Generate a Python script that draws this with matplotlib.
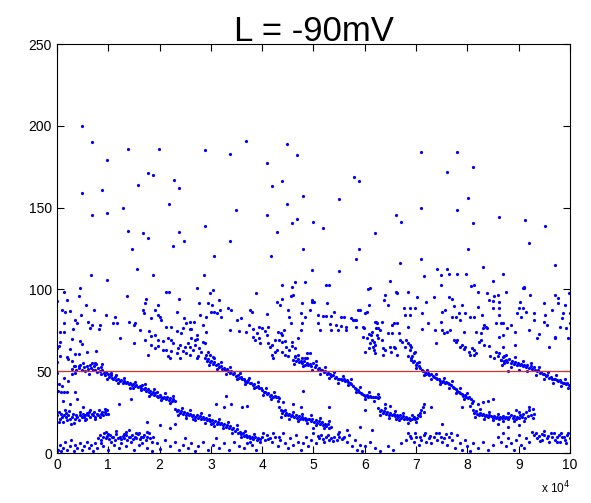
import matplotlib
matplotlib.use('Agg')
import matplotlib.pyplot as plt
import numpy as np

plt.rcParams['font.family'] = ['Liberation Sans', 'DejaVu Sans']

# x in units of 1e4, y
outliers = [
    (0.48, 200), (0.68, 190), (0.98, 179), (1.38, 186), (1.98, 186), (2.89, 185), (3.37, 183),
    (3.68, 191), (4.09, 177), (4.48, 189), (4.68, 182), (0.48, 159), (0.88, 161), (1.58, 164),
    (1.77, 171), (1.87, 170), (2.28, 167), (2.38, 162), (4.19, 163), (4.39, 166), (4.79, 157),
    (0.68, 145.5), (0.98, 147), (1.28, 150), (2.18, 152), (3.48, 148.5), (4.09, 145.5), (4.48, 152),
    (1.38, 136), (1.68, 134.5), (1.77, 131.5), (2.38, 135), (2.48, 129.6), (2.89, 139), (3.37, 129.6),
    (2.27, 126.5), (4.29, 135), (4.58, 140.6), (4.68, 143), (4.99, 141), (4.79, 125), (1.47, 125),
    (7.10, 184), (7.80, 184), (8.11, 175), (7.60, 172), (5.79, 169), (5.89, 166), (5.49, 155),
    (8.01, 156), (7.10, 150), (7.80, 148.5), (6.60, 145.5), (6.70, 141.5), (5.19, 137.5), (6.20, 134.5),
    (8.11, 140.6), (8.62, 144), (9.12, 142.5), (9.51, 139), (9.20, 128.5), (8.01, 125), (5.89, 124.5),
    (1.56, 112.5), (0.67, 109), (0.97, 106), (1.87, 109), (2.87, 109), (3.07, 120.6), (4.17, 120.6),
    (4.64, 104.5), (4.39, 102.7), (4.58, 101.5), (5.83, 118.6), (5.49, 111.4), (5.30, 102.7),
    (4.83, 104.5), (6.69, 116), (7.10, 118.6), (7.16, 108), (6.10, 100.8), (6.50, 105), (7.40, 112.5),
    (7.60, 112.5), (7.80, 109.6), (7.97, 109.6), (8.30, 113.7), (8.69, 109.6), (8.50, 105), (9.10, 101),
    (9.71, 115), (7.49, 108.8), (7.65, 109.4), (0.45, 100.6), (4.97, 112), (5.24, 102.5), (6.06, 100.5),
    (9.98, 98),
]

upper_cloud = [
    (0.14, 98.6), (0.42, 96), (0.20, 93.6), (0.01, 93), (0.56, 90.6), (0.09, 87.5), (0.73, 87.5),
    (0.25, 86.5), (0.16, 86), (0.47, 84.4), (0.95, 84.4), (1.13, 83.4), (0.35, 81.3), (0.60, 80.3),
    (1.10, 79.7), (1.17, 79.7), (0.13, 79.7), (0.39, 79.7), (0.68, 78.5), (0.84, 78.5), (0.65, 76.6),
    (0.81, 76), (0.32, 75.6), (0.13, 73.7), (0.06, 73.7), (1.23, 70.6), (0.29, 69.6), (0.45, 68.6),
    (0.06, 67.6), (0.48, 66.5), (0.03, 65.5), (0.0, 64), (0.25, 63.5), (0.77, 62.5), (0.58, 61.5),
    (0.35, 60.5), (0.42, 60.5), (0.06, 59.4), (0.19, 58.4), (0.22, 57.4), (0.29, 56.4), (0.0, 55.4),
    (0.68, 54.8), (0.77, 54.4), (0.87, 54.4), (0.42, 53.4), (0.35, 53),
    (1.37, 96), (2.12, 98.6), (2.18, 98.6), (1.73, 94.4), (2.38, 94.4), (1.71, 91.4), (1.97, 90.4),
    (1.68, 87.7), (1.91, 87.7), (2.34, 86.4), (1.70, 85.4), (1.96, 84.4), (2.0, 83.4), (1.83, 82.3),
    (2.47, 82.3), (2.03, 81.3), (1.4, 80.3), (1.53, 79.3), (1.5, 78.3), (2.12, 77.3), (2.22, 76.8),
    (1.61, 75.3), (1.79, 74.3), (2.33, 74.3), (2.41, 73.3), (1.91, 72.3), (1.84, 71.3), (2.17, 70.3),
    (1.71, 69.3), (2.23, 69.3), (1.96, 68.9), (2.07, 68.2), (1.51, 67.2), (2.27, 67.2), (1.84, 66.2),
    (2.39, 66.2), (1.97, 65.2), (1.91, 64.1), (2.35, 64.1), (2.06, 63.1), (2.13, 63.1), (2.23, 62.1),
    (2.45, 62.1), (2.33, 61.1), (1.77, 60.1), (2.17, 59.1), (2.2, 58), (2.39, 58),
    (2.72, 100.6), (3.04, 99.6), (2.98, 97.6), (2.77, 91.4), (2.94, 91.4), (3.02, 90.4), (3.15, 93.4),
    (3.33, 88.4), (3.40, 87.5), (3.17, 87.7), (3.07, 86.4), (3.01, 86.4), (3.11, 85.4), (2.78, 84.4),
    (2.91, 83.4), (3.20, 83.4), (3.59, 82.3), (3.5, 81.3), (2.6, 80.3), (2.67, 80.3), (2.51, 79.3),
    (2.84, 78.3), (2.45, 76.3), (2.59, 75.6), (2.62, 75.6), (3.37, 75.2), (3.55, 74.6), (2.91, 74.2),
    (3.69, 74.2), (2.72, 72.1), (2.62, 70.1), (2.72, 69.4), (2.69, 69), (2.84, 68), (2.88, 67.4),
    (2.56, 67), (2.69, 66), (2.49, 65), (2.59, 65), (2.77, 64), (2.95, 62), (2.52, 61), (2.59, 60),
    (2.75, 59), (2.72, 58), (2.98, 60), (3.05, 58.5), (2.65, 63), (2.80, 61.5),
    (3.87, 97.6), (4.60, 96.6), (4.57, 96), (4.28, 92.4), (4.97, 92.4), (4.78, 91.4), (4.38, 94.4),
    (4.35, 90.4), (3.77, 87.5), (3.80, 86.4), (4.50, 87.5), (4.94, 87.7), (4.75, 85.4), (4.09, 84.9),
    (4.53, 83.4), (4.84, 83.4), (4.78, 79.3), (4.56, 79.3), (3.75, 78.3), (3.93, 77.3), (4.12, 77.3),
    (4.0, 76.3), (3.83, 75.6), (4.43, 75.2), (4.75, 75.2), (4.06, 74.6), (4.30, 74.2), (4.36, 73.6),
    (3.89, 73.2), (4.09, 72.1), (4.39, 72.1), (3.83, 71.1), (3.93, 70.1), (4.69, 70.1), (3.86, 69),
    (4.25, 69), (4.32, 69), (4.45, 68.6), (4.58, 68), (4.38, 68), (3.96, 67), (4.12, 67), (4.19, 66),
    (4.58, 65.4), (4.15, 65), (4.47, 64.6), (4.63, 64), (4.53, 63), (4.28, 63), (4.25, 62), (4.38, 62),
    (4.88, 61), (4.94, 61), (4.19, 60), (4.45, 60), (4.51, 59.4), (4.64, 59), (4.22, 58), (4.78, 58),
    (4.84, 58),
    (4.98, 93.5), (5.01, 92.4), (5.26, 91.4), (6.09, 90.4), (5.86, 87.7), (5.90, 87.7), (5.4, 86.4),
    (6.04, 86.4), (6.01, 85.4), (5.08, 84.4), (5.18, 83.8), (5.24, 83.8), (5.34, 83.8), (5.53, 83.4),
    (5.60, 83.4), (5.73, 82.3), (5.80, 81.6), (5.77, 81.3), (5.83, 81), (6.22, 80.3), (5.09, 79.3),
    (5.33, 78.7), (5.44, 78.3), (5.53, 77.7), (5.63, 77.3), (5.83, 77.3), (5.96, 76.8), (5.99, 76.3),
    (6.22, 76.3), (5.12, 75.2), (5.34, 75.2), (5.47, 75.2), (5.63, 75.2), (6.15, 74.2), (6.08, 73),
    (6.12, 72), (5.96, 71), (6.05, 70), (6.14, 69), (6.18, 68), (6.10, 67), (6.20, 66), (6.16, 65),
    (6.08, 64), (6.0, 62), (6.18, 63),
    (6.39, 96.6), (6.62, 97.6), (6.60, 98.6), (6.84, 98.6), (7.02, 95.6), (7.35, 95.6), (6.37, 93.5),
    (7.2, 92.4), (6.46, 90.4), (6.77, 88.4), (6.88, 88.4), (6.98, 88.4), (7.11, 85.4), (6.79, 84.4),
    (6.89, 84.4), (6.20, 80.3), (6.23, 79.3), (6.33, 80.3), (6.56, 79.3), (6.62, 79.3), (7.24, 79.3),
    (6.53, 78.3), (6.85, 77.3), (6.26, 76.3), (6.30, 75.2), (7.11, 75.6), (7.37, 75.2), (6.46, 73.2),
    (6.53, 73.2), (6.66, 73.2), (6.23, 72.1), (6.26, 70.1), (6.33, 69), (6.68, 69), (6.81, 69),
    (6.72, 68), (7.39, 67.4), (6.85, 67), (6.88, 66), (6.49, 65), (6.56, 65), (6.79, 65), (6.91, 65),
    (6.59, 64), (6.36, 64), (6.39, 63), (6.88, 63), (6.98, 62), (6.52, 62), (6.2, 61), (6.95, 61),
    (6.62, 60), (6.36, 60), (6.85, 59), (6.91, 58),
    (7.48, 102.7), (8.13, 102.7), (8.07, 102), (8.20, 98.6), (8.39, 97.6), (8.59, 96.6), (8.52, 96),
    (7.64, 95.6), (7.69, 94.4), (8.42, 93.5), (8.49, 93), (8.62, 92.4), (7.90, 90.4), (7.74, 89.8),
    (8.20, 89.3), (8.62, 88.4), (8.49, 88.4), (7.57, 87.5), (7.51, 86.4), (7.83, 85.8), (7.96, 85.4),
    (8.29, 84.4), (8.62, 84.4), (7.70, 83.4), (7.77, 83.4), (8.06, 83.4), (8.13, 83.4), (7.86, 81.3),
    (7.48, 80.3), (8.69, 79.7), (8.56, 79.3), (8.66, 79.3), (8.33, 78.3), (8.36, 77.3), (8.30, 76.3),
    (8.39, 76.3), (7.51, 75.2), (7.67, 75.2), (7.61, 74.2), (7.93, 74.2), (8.16, 74.2), (7.54, 73.2),
    (8.26, 73.2), (8.69, 72.1), (8.62, 71.1), (7.74, 69), (7.80, 69), (7.77, 68), (8.23, 68), (8.26, 69),
    (7.9, 66), (8.33, 66), (8.42, 65.4), (7.86, 65), (7.96, 65), (8.09, 64), (7.93, 63.5), (8.13, 63),
    (8.03, 62), (8.55, 62), (8.16, 61), (8.62, 61), (8.06, 60), (8.13, 60), (8.45, 59.4), (8.59, 59),
    (8.52, 58), (8.65, 57), (8.71, 55),
    (9.11, 101.7), (9.09, 100.6), (9.70, 96.6), (9.76, 95), (9.22, 96.6), (8.76, 98.6), (9.03, 92.4),
    (9.49, 91.4), (9.76, 91.4), (9.90, 90.4), (9.0, 88.4), (9.09, 88.4), (9.64, 87.5), (9.15, 86.4),
    (10.0, 85.8), (8.96, 85.4), (9.29, 85.4), (9.87, 85.4), (9.51, 84.4), (9.05, 83.4), (9.84, 82.3),
    (9.29, 81.3), (9.49, 80.3), (10.0, 79.3), (8.85, 78.3), (9.80, 77.3), (9.93, 76.3), (8.78, 76.3),
    (8.92, 74.2), (9.70, 70.1), (9.96, 70.1), (8.92, 66), (8.69, 65), (9.71, 71), (9.2, 75), (9.4, 73),
    (9.55, 78), (9.35, 70), (9.6, 65),
]

# descending bands (upper branch of each sawtooth)
descent_upper = [
    (0.30, 51.5), (0.34, 53), (0.38, 50.5), (0.42, 52), (0.45, 53.5), (0.48, 51), (0.52, 52.5),
    (0.55, 50), (0.58, 53), (0.61, 51.5), (0.64, 54), (0.67, 52), (0.70, 50.5), (0.72, 53), (0.75, 51),
    (0.78, 49.5), (0.80, 52), (0.83, 50), (0.86, 48.5), (0.88, 51), (0.91, 49), (0.94, 47.5),
    (0.96, 49.5), (0.99, 48), (1.02, 46.5), (1.05, 47.5), (1.08, 46), (1.10, 45), (1.13, 46.5),
    (1.16, 44.5), (1.19, 45.5), (1.22, 44), (1.25, 44.5), (1.28, 43), (1.31, 44), (1.34, 42.5),
    (1.37, 43.5), (1.40, 42), (1.43, 42.5), (1.46, 41.5), (1.49, 42), (1.52, 41), (1.55, 41.5),
    (1.58, 40.5), (1.61, 41), (1.64, 40), (1.66, 41.5), (1.69, 39), (1.71, 40), (1.74, 38), (1.77, 39),
    (1.79, 37), (1.82, 38), (1.84, 36), (1.87, 37), (1.89, 35.5), (1.92, 36.5), (1.94, 35),
    (1.97, 34.5), (2.00, 35.5), (2.03, 34), (2.06, 33.5), (2.09, 34.5), (2.12, 33), (2.15, 34),
    (2.18, 32.5), (2.21, 33.5), (2.24, 32), (2.27, 33), (2.30, 31.5),
    (2.88, 58), (2.92, 56.5), (2.95, 57.5), (2.98, 55.5), (3.01, 56.5), (3.04, 54.5), (3.07, 55.5),
    (3.10, 53.5), (3.13, 54.5), (3.16, 52.5), (3.19, 53), (3.22, 51.5), (3.25, 52), (3.28, 50.5),
    (3.31, 51.5), (3.34, 50), (3.37, 49), (3.40, 50), (3.43, 48), (3.46, 49), (3.49, 47), (3.52, 47.5),
    (3.55, 46), (3.58, 46.5), (3.61, 45), (3.64, 45.5), (3.67, 44), (3.70, 43.5), (3.73, 44.5),
    (3.76, 42.5), (3.79, 43), (3.82, 41.5), (3.85, 42), (3.88, 40.5), (3.91, 41), (3.94, 39.5),
    (3.97, 40), (4.00, 38.5), (4.03, 37), (4.06, 37.5), (4.09, 36), (4.12, 36.5), (4.15, 35),
    (4.18, 35.5), (4.21, 34.5), (4.24, 35), (4.27, 34), (4.30, 34.5), (4.33, 33.5),
    (4.60, 57), (4.63, 58.5), (4.66, 56), (4.69, 57.5), (4.72, 55.5), (4.75, 56.5), (4.78, 55),
    (4.81, 56), (4.84, 54), (4.87, 55), (4.90, 53.5), (4.93, 54.5), (4.96, 53), (4.99, 55), (5.02, 52.5),
    (5.05, 53.5), (5.08, 51.5), (5.11, 52), (5.14, 50.5), (5.17, 51), (5.20, 49.5), (5.23, 50),
    (5.26, 48.5), (5.29, 49), (5.32, 48), (5.35, 47), (5.38, 47.5), (5.41, 46), (5.44, 46.5),
    (5.47, 45.5), (5.50, 45), (5.53, 45.5), (5.56, 44.5), (5.59, 45), (5.62, 44), (5.65, 44.5),
    (5.68, 43.5), (5.71, 43), (5.74, 42), (5.77, 41), (5.80, 40), (5.83, 39), (5.86, 38.5), (5.89, 37.5),
    (5.92, 36.5), (5.95, 36), (5.98, 35.5), (6.01, 35), (6.04, 35.5), (6.07, 34.5), (6.10, 35),
    (6.13, 34), (6.16, 34.5), (6.19, 34), (6.22, 34.5), (6.25, 33.5), (6.28, 34),
    (6.90, 57), (6.93, 55.5), (6.96, 56.5), (6.99, 54), (7.02, 55), (7.05, 53), (7.08, 52), (7.11, 51),
    (7.14, 50), (7.17, 49.5), (7.20, 48.5), (7.23, 49), (7.26, 47.5), (7.29, 48), (7.32, 47),
    (7.35, 46.5), (7.38, 46), (7.41, 45.5), (7.44, 45), (7.47, 44), (7.50, 43.5), (7.53, 44),
    (7.56, 43), (7.59, 43.5), (7.62, 42.5), (7.65, 42), (7.68, 41.5), (7.71, 40.5), (7.74, 40),
    (7.77, 39), (7.80, 38), (7.83, 37.5), (7.86, 36.5), (7.89, 36), (7.92, 35), (7.95, 35.5),
    (7.98, 34.5), (8.01, 33.5), (8.04, 34), (8.07, 33), (8.10, 32),
    (8.66, 57), (8.69, 58.5), (8.72, 56), (8.75, 57), (8.78, 55.5), (8.81, 57.5), (8.84, 55), (8.87, 56),
    (8.90, 54.5), (8.93, 55.5), (8.96, 54), (8.99, 55), (9.02, 53.5), (9.05, 54.5), (9.08, 53),
    (9.11, 54), (9.14, 52.5), (9.17, 53.5), (9.20, 52), (9.23, 53), (9.26, 51.5), (9.29, 52.5),
    (9.32, 51), (9.35, 50), (9.38, 50.5), (9.41, 49), (9.44, 49.5), (9.47, 48), (9.50, 48.5),
    (9.53, 47), (9.56, 47.5), (9.59, 46), (9.62, 46.5), (9.65, 45.5), (9.68, 45), (9.71, 45.5),
    (9.74, 44.5), (9.77, 44), (9.80, 44.5), (9.83, 43.5), (9.86, 43), (9.89, 42.5), (9.92, 42),
    (9.95, 42.5), (9.98, 41.5),
]

# extra points that give the upper branches their width
descent_upper_spread = [
    (0.36, 49), (0.5, 55), (0.62, 48.5), (0.74, 55), (0.85, 52.5), (0.97, 45.5), (1.06, 49),
    (1.18, 42.5), (1.3, 46), (1.42, 40), (1.53, 43.5), (1.63, 38.5), (1.72, 42), (1.8, 35), (1.9, 39),
    (2.02, 32.5), (2.1, 36.5), (2.2, 30.5), (2.26, 35), (1.15, 47.5), (1.48, 39.5), (1.95, 37.5),
    (2.9, 60), (2.97, 53.5), (3.06, 58), (3.12, 51.5), (3.2, 55.5), (3.3, 48.5), (3.38, 52.5),
    (3.5, 45), (3.57, 49), (3.66, 42), (3.75, 46), (3.84, 39.5), (3.92, 43.5), (4.02, 35.5),
    (4.08, 39.5), (4.17, 33), (4.23, 37), (4.31, 32),
    (4.62, 54.5), (4.7, 60), (4.8, 53), (4.88, 58), (4.97, 51), (5.05, 56), (5.13, 48.5), (5.22, 52.5),
    (5.3, 46), (5.4, 49.5), (5.48, 43), (5.57, 47), (5.67, 41.5), (5.73, 45), (5.82, 37), (5.9, 40.5),
    (6.0, 33), (6.08, 37), (6.18, 32), (6.26, 36),
    (6.92, 59), (7.0, 52), (7.06, 55.5), (7.15, 47.5), (7.22, 51), (7.3, 45), (7.38, 48.5), (7.46, 42),
    (7.55, 46), (7.64, 40), (7.7, 44), (7.78, 36.5), (7.85, 39.5), (7.94, 33), (8.0, 36.5), (8.08, 30.5),
    (8.68, 54), (8.76, 60), (8.85, 52.5), (8.92, 58.5), (9.0, 51), (9.08, 56.5), (9.16, 50), (9.24, 55),
    (9.33, 47.5), (9.4, 52.5), (9.5, 45.5), (9.58, 49.5), (9.66, 43), (9.73, 47.5), (9.82, 41),
    (9.9, 45), (9.97, 40), (8.8, 50), (8.72, 59.5),
]

# lower branch of each sawtooth
descent_lower = [
    (0.00, 23), (0.03, 25), (0.05, 21), (0.08, 24), (0.10, 22), (0.12, 19), (0.15, 26), (0.17, 22),
    (0.20, 20), (0.22, 23), (0.25, 21), (0.27, 18), (0.30, 22), (0.32, 24), (0.35, 21), (0.38, 23),
    (0.40, 22), (0.42, 20), (0.45, 23), (0.48, 22), (0.50, 24), (0.52, 22), (0.55, 23), (0.57, 21),
    (0.60, 23), (0.62, 25), (0.65, 22), (0.68, 24), (0.70, 23), (0.72, 25), (0.75, 22), (0.78, 24),
    (0.80, 23), (0.82, 26), (0.85, 24), (0.88, 25), (0.90, 23), (0.93, 25), (0.95, 24), (0.98, 26),
    (1.00, 24),
    (2.30, 27), (2.33, 25.5), (2.36, 26.5), (2.39, 24.5), (2.42, 25.5), (2.45, 24), (2.48, 25),
    (2.51, 23.5), (2.54, 24.5), (2.57, 23), (2.60, 24), (2.63, 22.5), (2.66, 23.5), (2.69, 22),
    (2.72, 23), (2.75, 21.5), (2.78, 22.5), (2.81, 21), (2.84, 22), (2.87, 20.5), (2.90, 21.5),
    (2.93, 20), (2.96, 21), (2.99, 19.5), (3.02, 20), (3.05, 18.5), (3.08, 19.5), (3.11, 18),
    (3.14, 19), (3.17, 17.5), (3.20, 18.5), (3.23, 17), (3.26, 18), (3.29, 16), (3.32, 17),
    (3.35, 15.5), (3.38, 16.5), (3.41, 14.5), (3.44, 15), (3.47, 13.5), (3.50, 14.5), (3.53, 12.5),
    (3.56, 13), (3.59, 11.5), (3.62, 12), (3.65, 10.5), (3.68, 11), (3.71, 9.5), (3.74, 10.5),
    (3.77, 9), (3.80, 10), (3.83, 8.5), (3.86, 9.5), (3.89, 8), (3.92, 9), (3.95, 8.5),
    (4.33, 28), (4.36, 26), (4.38, 24.5), (4.41, 25.5), (4.44, 23.5), (4.47, 24.5), (4.50, 23),
    (4.53, 24), (4.56, 22.5), (4.59, 23.5), (4.62, 22), (4.65, 23), (4.68, 21.5), (4.71, 22.5),
    (4.74, 21), (4.77, 22), (4.80, 20.5), (4.83, 21.5), (4.86, 20), (4.89, 21), (4.92, 20.5),
    (4.95, 19.5), (4.98, 21), (5.01, 19), (5.04, 20), (5.07, 18.5), (5.10, 19.5), (5.13, 18),
    (5.16, 19), (5.19, 17), (5.22, 18), (5.25, 16.5), (5.28, 17.5), (5.31, 15.5), (5.34, 16),
    (6.26, 27.5), (6.29, 25.5), (6.32, 26.5), (6.35, 24.5), (6.38, 25.5), (6.41, 24), (6.44, 25),
    (6.47, 23.5), (6.50, 24.5), (6.53, 23), (6.56, 24), (6.59, 22.5), (6.62, 23.5), (6.65, 22),
    (6.68, 23), (6.71, 21.5), (6.74, 22.5), (6.77, 21), (6.80, 22), (6.83, 20.5), (6.86, 21.5),
    (6.89, 20), (6.92, 21), (6.95, 22), (6.98, 20.5), (7.01, 21.5), (7.04, 23), (7.07, 24.5),
    (7.10, 26), (7.13, 28), (7.16, 25),
    (8.10, 26), (8.13, 24.5), (8.16, 25.5), (8.19, 24), (8.22, 23.5), (8.25, 24.5), (8.28, 23),
    (8.31, 24), (8.34, 22.5), (8.37, 23.5), (8.40, 22), (8.43, 23), (8.46, 22.5), (8.49, 21.5),
    (8.52, 22.5), (8.55, 21.5), (8.58, 22), (8.61, 21), (8.64, 22), (8.67, 21.5), (8.70, 22.5),
    (8.73, 21.5), (8.76, 22), (8.79, 21), (8.82, 22), (8.85, 23), (8.88, 21.5), (8.91, 22.5),
    (8.94, 21), (8.97, 22), (9.00, 21.5), (9.03, 23), (9.06, 22), (9.09, 24), (9.12, 21.5), (9.15, 25),
    (9.18, 22.5), (9.21, 26), (9.24, 23), (9.27, 21.5), (9.30, 24),
]

descent_lower_spread = [
    (0.04, 19), (0.14, 23.5), (0.24, 25.5), (0.34, 18.5), (0.44, 25), (0.54, 20), (0.64, 26.5),
    (0.74, 20.5), (0.84, 22), (0.94, 27), (0.58, 24.5), (0.18, 24.5),
    (2.35, 23), (2.44, 27.5), (2.52, 21.5), (2.6, 26), (2.7, 20), (2.8, 24.5), (2.88, 18.5), (2.97, 23),
    (3.06, 16.5), (3.15, 21), (3.24, 15), (3.33, 19), (3.42, 12.5), (3.5, 17), (3.58, 9.5),
    (3.66, 13.5), (3.76, 7), (3.85, 11.5), (2.65, 21), (3.0, 17.5),
    (4.37, 22), (4.45, 26.5), (4.52, 20.5), (4.6, 25), (4.7, 19.5), (4.78, 24), (4.88, 18.5),
    (4.96, 23), (5.05, 17), (5.12, 21.5), (5.2, 15), (5.3, 19.5),
    (6.3, 23), (6.4, 27.5), (6.48, 21.5), (6.58, 25.5), (6.66, 20), (6.75, 24.5), (6.84, 18.5),
    (6.92, 23.5), (7.0, 19), (7.08, 22.5), (6.6, 21),
    (8.15, 22), (8.24, 27), (8.33, 20.5), (8.42, 25), (8.5, 20), (8.6, 24), (8.7, 19.5), (8.8, 24.5),
    (8.9, 19.5), (9.0, 25), (9.1, 19.5), (9.2, 28), (9.28, 27), (8.95, 26.5),
]

# points near the bottom of the range
bottom = [
    (0.80, 9), (0.83, 11), (0.86, 8), (0.89, 10), (0.92, 12), (0.95, 9), (0.98, 10.5), (1.01, 8.5),
    (1.04, 11), (1.07, 9.5), (1.10, 10), (1.13, 8), (1.16, 11.5), (1.19, 9), (1.22, 10), (1.25, 8.5),
    (1.28, 10.5), (1.31, 9), (1.34, 11), (1.37, 8), (1.40, 10), (1.43, 9.5), (1.46, 11), (1.49, 8.5),
    (1.52, 10), (1.55, 9), (1.58, 11.5), (1.61, 8.5), (1.64, 10), (1.67, 9.5), (1.70, 11), (1.73, 8),
    (1.76, 10), (1.79, 12), (1.82, 9), (1.85, 7), (1.88, 10),
    (0.85, 6), (0.95, 13), (1.05, 6.5), (1.15, 13.5), (1.25, 6), (1.35, 13), (1.45, 6.5), (1.55, 12.5),
    (1.65, 6), (1.75, 13), (1.0, 11.5), (1.3, 11.5), (1.6, 12),
    (0.0, 0), (0.02, 2), (0.05, 5), (0.08, 1), (0.12, 3), (0.15, 7), (0.2, 2), (0.25, 4), (0.28, 8),
    (0.33, 1), (0.36, 5), (0.4, 3), (0.44, 6), (0.48, 2), (0.53, 4), (0.58, 7), (0.62, 3), (0.66, 5),
    (0.7, 1), (0.74, 6), (0.78, 3), (0.9, 4), (1.0, 2), (1.12, 5), (1.2, 3), (1.35, 4), (1.5, 2),
    (1.6, 5), (1.75, 3), (1.85, 1), (1.95, 6), (2.0, 2.5), (2.1, 8), (2.2, 4), (2.3, 7), (2.38, 2),
    (2.45, 5), (2.5, 9), (2.55, 3), (2.62, 6), (2.7, 1), (2.75, 4), (2.85, 7), (2.95, 2), (3.05, 5),
    (3.1, 9), (3.15, 3), (3.25, 6), (3.35, 2), (3.45, 7), (3.55, 4), (3.65, 3), (3.7, 6), (3.8, 5),
    (3.88, 2), (3.95, 7), (4.0, 10), (4.05, 8), (4.1, 11), (4.15, 9), (4.2, 7), (4.25, 10), (4.3, 4),
    (4.35, 8), (4.4, 12), (4.45, 6), (4.5, 3), (4.55, 9), (4.6, 5), (4.65, 11), (4.7, 7), (4.75, 2),
    (4.8, 6), (4.85, 10), (4.9, 4), (4.95, 8), (5.0, 12), (5.05, 6), (5.1, 9), (5.15, 11), (5.2, 7),
    (5.25, 10), (5.3, 8), (5.35, 9), (5.4, 10), (5.45, 8), (5.5, 9.5), (5.55, 8.5), (5.6, 10),
    (5.65, 7), (5.7, 11), (5.75, 4), (5.8, 8), (5.85, 2), (5.9, 5), (5.95, 1), (6.0, 4), (6.1, 7),
    (6.2, 3), (6.3, 1), (6.45, 4), (6.55, 2), (6.7, 6), (6.8, 8), (6.85, 12), (6.9, 9), (6.95, 7),
    (7.0, 10), (7.05, 5), (7.1, 8), (7.15, 11), (7.2, 7), (7.25, 9), (7.3, 6), (7.35, 10), (7.4, 8),
    (7.45, 12), (7.5, 7), (7.55, 9), (7.6, 5), (7.65, 10), (7.7, 8), (7.75, 3), (7.8, 11), (7.85, 6),
    (7.9, 2), (7.95, 8), (8.0, 4), (8.05, 1), (8.1, 6), (8.2, 3), (8.3, 7), (8.4, 2), (8.5, 5),
    (8.6, 10), (8.65, 7), (8.7, 12), (8.75, 4), (8.8, 9), (8.85, 6), (8.9, 2), (8.95, 8), (9.0, 11),
    (9.05, 5), (9.1, 3), (9.15, 9), (9.2, 7), (9.25, 13), (9.3, 11), (9.35, 9), (9.4, 10.5), (9.45, 8),
    (9.5, 11), (9.55, 9), (9.6, 7), (9.65, 10), (9.7, 8), (9.75, 9.5), (9.8, 7), (9.85, 10), (9.9, 8),
    (9.95, 11), (10.0, 9), (9.62, 12), (9.78, 11), (9.92, 6),
    (9.33, 12), (9.42, 7.5), (9.5, 13.5), (9.58, 10.5), (9.68, 12.5), (9.74, 7), (9.82, 12.5),
    (9.88, 9.5), (9.97, 12), (9.45, 11.5),
    (6.88, 10.5), (6.98, 12), (7.08, 9.5), (7.18, 12.5), (7.28, 10.5), (7.38, 12), (7.48, 9.5),
    (7.58, 11.5), (7.68, 12.5),
    (4.02, 12), (4.12, 8.5), (4.22, 12), (4.32, 10), (5.08, 10.5), (5.18, 8.5), (5.28, 11), (5.38, 7.5),
    (5.48, 11.5), (5.58, 9),
]

# isolated points between the bands
between = [
    (0.02, 38), (0.08, 37.5), (0.14, 37), (0.2, 37.5), (0.35, 37.5), (0.03, 42), (0.09, 41),
    (0.13, 46), (0.22, 44), (0.29, 48), (0.0, 49), (0.25, 30), (0.4, 33), (0.5, 28), (0.12, 32),
    (1.75, 19), (1.4, 14), (2.2, 15), (2.0, 17), (3.4, 30), (3.6, 28), (4.4, 31), (4.6, 30),
    (4.75, 28), (5.3, 28), (6.0, 26), (6.4, 30), (6.5, 29), (6.15, 14), (5.9, 16), (5.65, 14),
    (7.15, 30), (7.3, 28), (7.9, 28), (8.05, 29), (8.2, 30), (8.4, 32), (8.5, 33), (8.3, 31),
    (8.6, 18), (8.8, 16), (9.0, 17), (4.8, 38), (3.7, 29), (3.1, 30), (3.25, 28), (3.3, 35),
    (1.2, 30), (1.45, 33), (2.3, 18), (7.5, 18), (5.0, 15), (5.5, 13),
]

threshold = 50

fig = plt.figure(figsize=(5.91, 5.03), dpi=100)
ax = fig.add_axes([0.0964, 0.0994, 0.8681, 0.8131])

groups = (outliers, upper_cloud, descent_upper, descent_upper_spread,
          descent_lower, descent_lower_spread, bottom, between)
for group in groups:
    xs, ys = np.array(group).T
    ax.plot(xs, ys, linestyle='none', marker='o', markersize=2.3,
            markeredgewidth=0, color=(0, 0, 1))

ax.axhline(threshold, color=(0.85, 0.2, 0.15), lw=0.9)

ax.set_xlim(0, 10)
ax.set_ylim(0, 250)
ax.set_xticks(range(0, 11))
ax.set_yticks(range(0, 251, 50))
ax.tick_params(direction='in', top=True, right=True, length=5, labelsize=10)
for s in ax.spines.values():
    s.set_linewidth(0.8)

ax.set_title('L = -90mV', fontsize=25, pad=2)
ax.text(1.0, -0.085, r'x 10$^{4}$', transform=ax.transAxes, ha='right', va='center', fontsize=8.5)

plt.savefig('out.png', dpi=100)
